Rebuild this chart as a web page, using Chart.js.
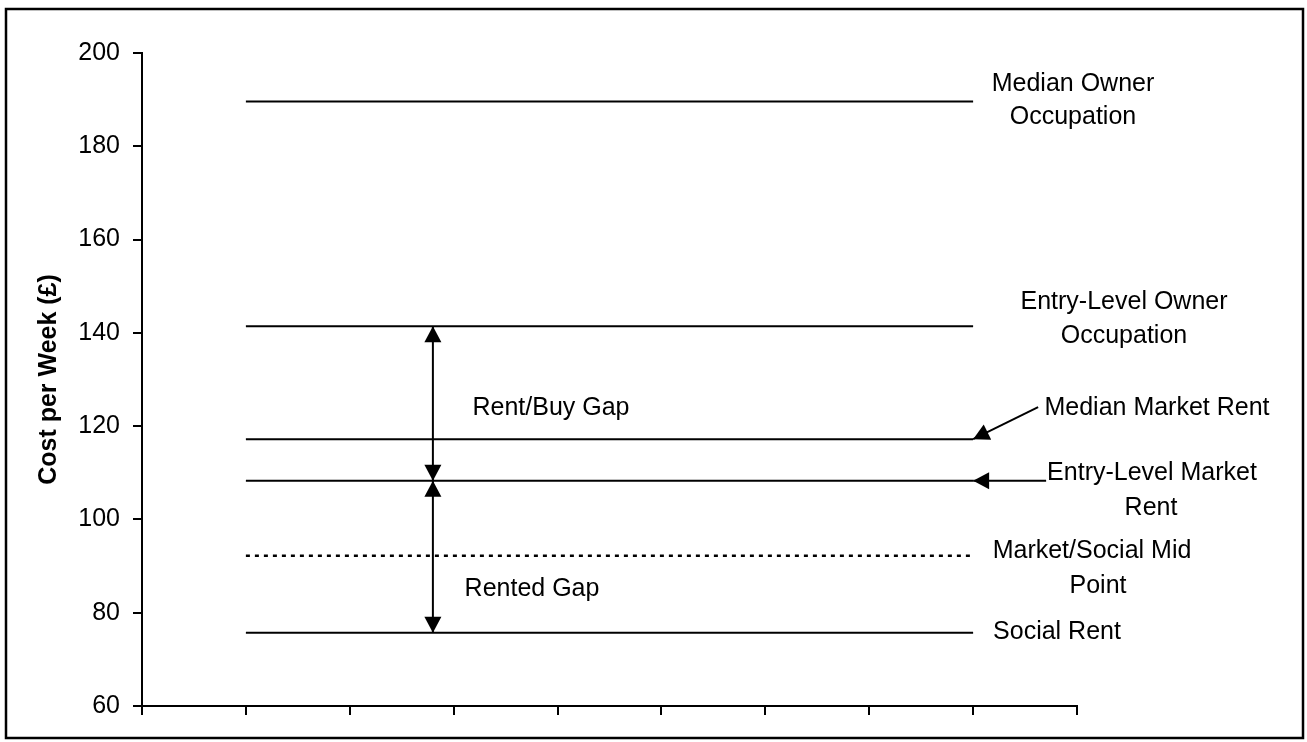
<!DOCTYPE html>
<html lang="en">
<head>
    <meta charset="UTF-8">
    <title>Cost per Week</title>
    <script src="https://cdn.jsdelivr.net/npm/chart.js"></script>
    <style>
        body, html {
            margin: 0;
            background-color: #fff;
            overflow: hidden;
        }
        .wrap {
            width: 1307px;
            height: 742px;
            position: relative;
        }
    </style>
</head>
<body>
    <div class="wrap">
        <canvas id="costChart"></canvas>
    </div>

    <script>
        // housing cost levels, £ per week
        const levelNames = ['Median Owner Occupation', 'Entry-Level Owner Occupation', 'Median Market Rent',
            'Entry-Level Market Rent', 'Market/Social Mid Point', 'Social Rent'];
        const levelValues = [189.6, 141.4, 117.2, 108.3, 92.2, 75.7];
        const levelDotted = [false, false, false, false, true, false];

        // x axis: 9 blank intervals, lines run from tick 1 to tick 8
        const xMin = 0;
        const xMax = 9;
        const lineFrom = 1;
        const lineTo = 8;

        const yMin = 60;
        const yMax = 200;
        const yStep = 20;
        const yTitle = 'Cost per Week (£)';

        const gapNames = ['Rent/Buy Gap', 'Rented Gap'];
        // [upper level index, lower level index]
        const gapLevels = [[1, 3], [3, 5]];
        const gapArrowAt = 2.8;

        const FONT = "'Liberation Sans', Arial, sans-serif";
        Chart.defaults.font.family = FONT;
        Chart.defaults.color = '#000';

        const datasets = levelValues.map((v, i) => ({
            label: levelNames[i],
            data: [{x: lineFrom, y: v}, {x: lineTo, y: v}],
            borderColor: '#000',
            borderWidth: levelDotted[i] ? 2.5 : 2,
            borderDash: levelDotted[i] ? [4, 5] : [],
            pointRadius: 0,
            fill: false
        }));

        function arrowHead(ctx, tx, ty, fx, fy) {
            const ang = Math.atan2(ty - fy, tx - fx);
            const len = 16, half = 8.5;
            ctx.beginPath();
            ctx.moveTo(tx, ty);
            ctx.lineTo(tx - len * Math.cos(ang) + half * Math.sin(ang), ty - len * Math.sin(ang) - half * Math.cos(ang));
            ctx.lineTo(tx - len * Math.cos(ang) - half * Math.sin(ang), ty - len * Math.sin(ang) + half * Math.cos(ang));
            ctx.closePath();
            ctx.fill();
        }

        function arrow(ctx, fx, fy, tx, ty, both) {
            ctx.beginPath();
            ctx.moveTo(fx, fy);
            ctx.lineTo(tx, ty);
            ctx.stroke();
            arrowHead(ctx, tx, ty, fx, fy);
            if (both) arrowHead(ctx, fx, fy, tx, ty);
        }

        const notes = {
            id: 'notes',
            afterDraw(chart) {
                const ctx = chart.ctx;
                const xs = chart.scales.x;
                const ys = chart.scales.y;
                ctx.save();
                ctx.strokeStyle = '#000';
                ctx.fillStyle = '#000';

                // outer frame
                ctx.lineWidth = 2.5;
                ctx.strokeRect(6, 9, 1297, 729);

                // gap arrows between levels
                ctx.lineWidth = 2;
                const gx = xs.getPixelForValue(gapArrowAt);
                gapLevels.forEach(([a, b]) => {
                    arrow(ctx, gx, ys.getPixelForValue(levelValues[a]), gx, ys.getPixelForValue(levelValues[b]), true);
                });

                // pointers to market rent lines
                const ex = xs.getPixelForValue(lineTo);
                const my = ys.getPixelForValue(levelValues[2]);
                arrow(ctx, ex + 65, my - 32, ex, my, false);
                const ey = ys.getPixelForValue(levelValues[3]);
                arrow(ctx, ex + 73, ey, ex, ey, false);

                // labels
                ctx.font = '25px ' + FONT;
                ctx.textAlign = 'center';
                ctx.textBaseline = 'middle';
                const labels = [
                    ['Median Owner', 1073, 84], ['Occupation', 1073, 117],
                    ['Entry-Level Owner', 1124, 302], ['Occupation', 1124, 336],
                    ['Median Market Rent', 1157, 408],
                    ['Entry-Level Market', 1152, 473], ['Rent', 1151, 508],
                    ['Market/Social Mid', 1092, 551], ['Point', 1098, 586],
                    ['Social Rent', 1057, 632],
                    [gapNames[0], 551, 408], [gapNames[1], 532, 589]
                ];
                labels.forEach(([t, x, y]) => ctx.fillText(t, x, y));
                ctx.restore();
            }
        };

        new Chart(document.getElementById('costChart').getContext('2d'), {
            type: 'line',
            data: { datasets: datasets },
            options: {
                responsive: true,
                maintainAspectRatio: false,
                animation: false,
                layout: { padding: { left: 0, right: 230, top: 53, bottom: 0 } },
                plugins: {
                    legend: { display: false },
                    tooltip: { enabled: false }
                },
                scales: {
                    x: {
                        type: 'linear',
                        min: xMin,
                        max: xMax,
                        ticks: { stepSize: 1, callback: () => '' },
                        grid: { drawOnChartArea: false, drawTicks: true, tickLength: 9, color: '#000', lineWidth: 2 },
                        border: { display: true, color: '#000', width: 2 },
                        afterFit(scale) { scale.height = 36; }
                    },
                    y: {
                        min: yMin,
                        max: yMax,
                        ticks: { stepSize: yStep, padding: 13, color: '#000', font: { size: 25 } },
                        grid: { drawOnChartArea: false, drawTicks: true, tickLength: 9, color: '#000', lineWidth: 2 },
                        border: { display: true, color: '#000', width: 2 },
                        title: {
                            display: true,
                            text: yTitle,
                            color: '#000',
                            font: { size: 25, weight: 'bold' },
                            padding: { top: 34, bottom: 0 }
                        },
                        afterFit(scale) { scale.width = 142; }
                    }
                }
            },
            plugins: [notes]
        });
    </script>
</body>
</html>
